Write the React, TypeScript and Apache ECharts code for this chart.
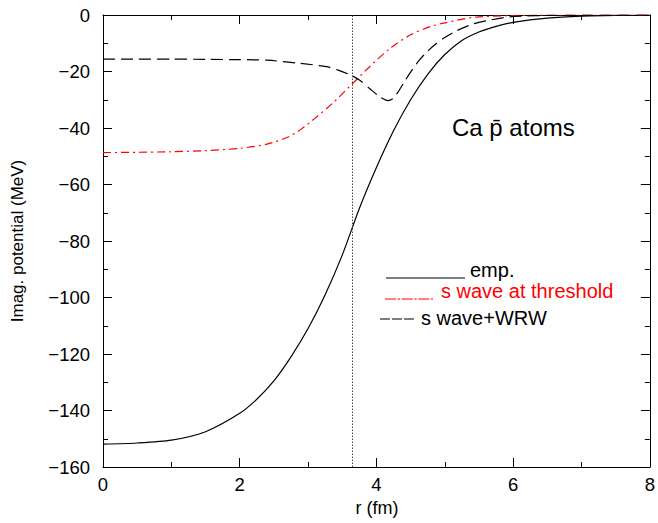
import React, { useEffect, useRef } from "react";
import * as echarts from "echarts";

const empR = [0, 0.5, 1, 1.5, 2, 2.25, 2.5, 2.75, 3, 3.25, 3.5, 3.75, 4, 4.25, 4.5, 4.75, 5, 5.25, 5.5, 5.75, 6, 6.5, 7, 7.5, 8];
const empV = [-151.9, -151.5, -150.5, -147.5, -141, -136, -129.5, -121, -111, -99, -85, -68.5, -54, -41, -30, -21, -14, -9, -6, -4, -2.6, -1.1, -0.4, -0.15, -0.05];

const thrR = [0, 0.5, 1, 1.5, 2, 2.4, 2.7, 2.9, 3.1, 3.36, 3.6, 3.9, 4.2, 4.5, 4.8, 5, 5.4, 6, 7, 8];
const thrV = [-48.7, -48.6, -48.4, -48, -47.2, -45.7, -43.3, -40.4, -36.6, -31.2, -25.5, -18.3, -11.8, -7, -4, -2.8, -0.9, -0.2, 0, 0];

const wrwR = [0, 0.5, 1, 1.5, 2, 2.4, 2.88, 3.27, 3.45, 3.6, 3.75, 3.9, 4.05, 4.17, 4.25, 4.31, 4.4, 4.49, 4.63, 4.75, 4.88, 5, 5.17, 5.41, 5.66, 5.9, 6.15, 6.5, 7, 8];
const wrwV = [-15.6, -15.6, -15.6, -15.7, -15.8, -16, -17.1, -18.3, -19.6, -21, -23, -26, -29, -30.3, -29.5, -27.5, -24, -20.6, -15.9, -12.8, -10, -8, -5.6, -3.2, -1.8, -0.8, -0.4, -0.15, -0.05, 0];

const thresholdR = 3.65;

const xRange = [0, 8];
const yRange = [-160, 0];
const xMajor = 2;
const xMinor = 1;
const yMajor = 20;
const yMinor = 10;

const legendLabels = ["emp.", "s wave at threshold", "s wave+WRW"];
const titleText = "Ca p\u0304 atoms";
const xName = "r (fm)";
const yName = "Imag. potential (MeV)";

const FONT = "'Liberation Sans', Arial, Helvetica, sans-serif";

const zip = (xs: number[], ys: number[]) => xs.map((x, i) => [x, ys[i]]);
const fmt = (v: number) => (v < 0 ? "\u2212" + Math.abs(v) : String(v));

function axis(kind: "x" | "y", position: string, interval: number, tickLen: number, labels: boolean, line: boolean) {
  const [min, max] = kind === "x" ? xRange : yRange;
  return {
    type: "value",
    min,
    max,
    interval,
    position,
    axisLine: { show: line, onZero: false, lineStyle: { color: "#000", width: 1 } },
    axisTick: { show: true, inside: true, length: tickLen, lineStyle: { color: "#000", width: 1 } },
    minorTick: { show: false },
    splitLine: { show: false },
    axisLabel: labels
      ? { show: true, fontFamily: FONT, fontSize: 18.5, color: "#000", margin: kind === "x" ? 8 : 13, formatter: fmt }
      : { show: false },
  };
}

export default function App() {
  const ref = useRef<HTMLDivElement>(null);
  useEffect(() => {
    if (!ref.current) return;
    const chart = echarts.init(ref.current, null, { renderer: "svg" });
    chart.setOption({
      animation: false,
      backgroundColor: "#fff",
      grid: { left: 103, right: 7, top: 15, bottom: 56, containLabel: false },
      xAxis: [
        axis("x", "bottom", xMajor, 9, true, true),
        axis("x", "bottom", xMinor, 5, false, false),
        axis("x", "top", xMajor, 9, false, true),
        axis("x", "top", xMinor, 5, false, false),
      ],
      yAxis: [
        axis("y", "left", yMajor, 9, true, true),
        axis("y", "left", yMinor, 5, false, false),
        axis("y", "right", yMajor, 9, false, true),
        axis("y", "right", yMinor, 5, false, false),
      ],
      series: [
        {
          type: "line", name: legendLabels[0], data: zip(empR, empV), showSymbol: false,
          xAxisIndex: 0, yAxisIndex: 0, smooth: 0.25,
          lineStyle: { color: "#000", width: 1.2 },
          markLine: {
            silent: true, symbol: ["none", "none"], label: { show: false },
            lineStyle: { color: "#444", type: [1.5, 1.5], width: 1 },
            data: [{ xAxis: thresholdR }],
          },
        },
        {
          type: "line", name: legendLabels[1], data: zip(thrR, thrV), showSymbol: false,
          xAxisIndex: 0, yAxisIndex: 0, smooth: 0.25,
          lineStyle: { color: "#ff0000", width: 1.2, type: [8, 4, 2, 4] },
        },
        {
          type: "line", name: legendLabels[2], data: zip(wrwR, wrwV), showSymbol: false,
          xAxisIndex: 0, yAxisIndex: 0, smooth: 0.25,
          lineStyle: { color: "#000", width: 1.2, type: [12, 6] },
        },
      ],
      graphic: [
        {
          type: "text", x: 452, y: 127,
          style: { text: titleText, fontFamily: FONT, fontSize: 24, fill: "#000", verticalAlign: "middle" },
        },
        {
          type: "text", x: 17, y: 241, rotation: Math.PI / 2,
          style: { text: yName, fontFamily: FONT, fontSize: 17, fill: "#000", align: "center", verticalAlign: "middle" },
        },
        {
          type: "text", x: 377, y: 508,
          style: { text: xName, fontFamily: FONT, fontSize: 18, fill: "#000", align: "center", verticalAlign: "middle" },
        },
        {
          type: "line", shape: { x1: 386, y1: 278, x2: 465, y2: 278 },
          style: { stroke: "#000", lineWidth: 1.2 },
        },
        {
          type: "text", x: 470, y: 270,
          style: { text: legendLabels[0], fontFamily: FONT, fontSize: 20, fill: "#000", verticalAlign: "middle" },
        },
        {
          type: "line", shape: { x1: 385, y1: 299, x2: 433, y2: 299 },
          style: { stroke: "#ff0000", lineWidth: 1.2, lineDash: [11, 1.5, 2.5, 1.7] },
        },
        {
          type: "text", x: 441, y: 291,
          style: { text: legendLabels[1], fontFamily: FONT, fontSize: 20, fill: "#ff0000", verticalAlign: "middle" },
        },
        {
          type: "line", shape: { x1: 380, y1: 319, x2: 414, y2: 319 },
          style: { stroke: "#000", lineWidth: 1.2, lineDash: [10, 2] },
        },
        {
          type: "text", x: 421, y: 318,
          style: { text: legendLabels[2], fontFamily: FONT, fontSize: 20, fill: "#000", verticalAlign: "middle" },
        },
      ],
    });
    return () => chart.dispose();
  }, []);
  return <div ref={ref} style={{ width: 658, height: 523, position: "absolute", left: 0, top: 0 }} />;
}
